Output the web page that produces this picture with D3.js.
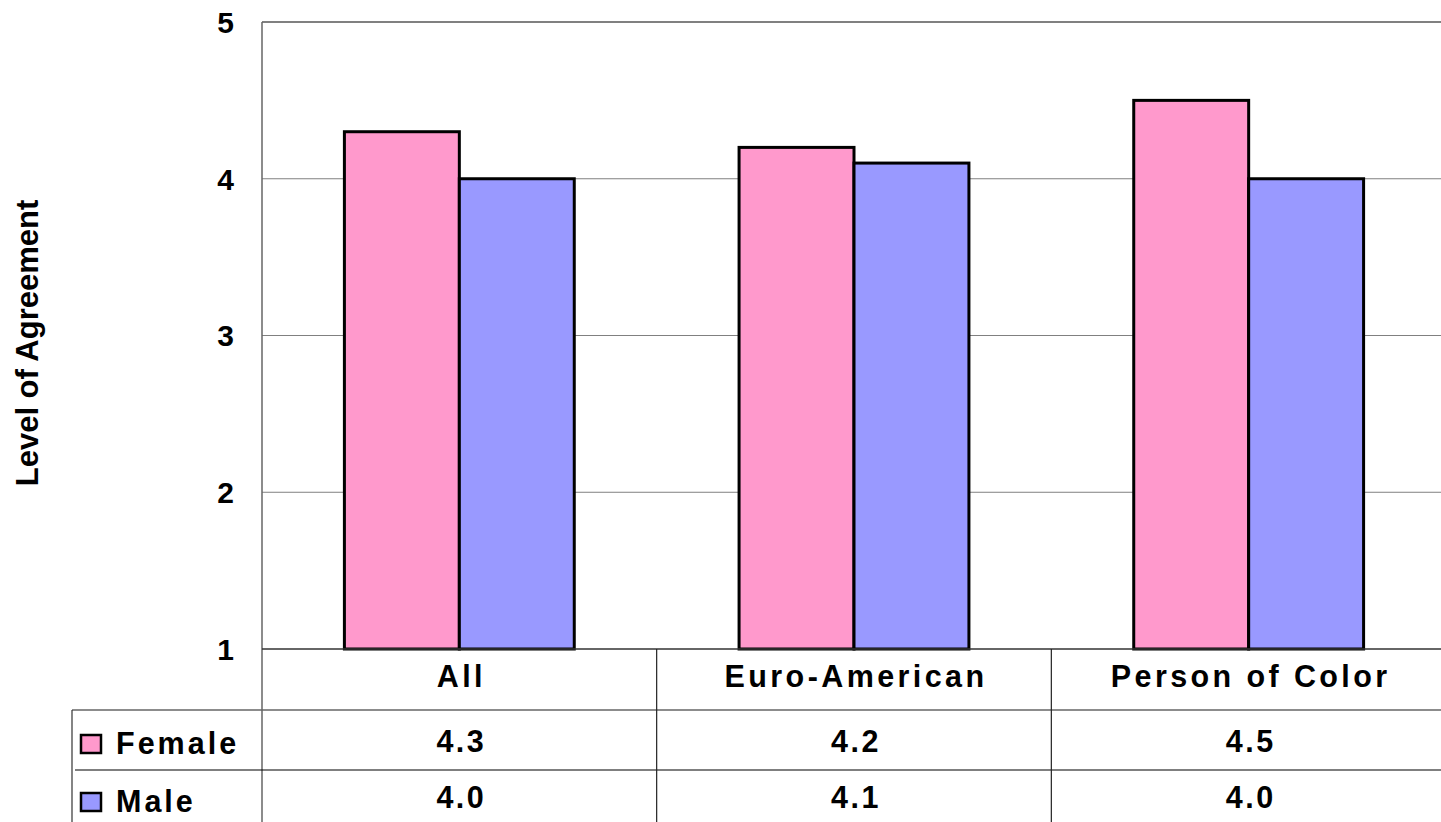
<!DOCTYPE html>
<html>
<head>
<meta charset="utf-8">
<script src="https://cdn.jsdelivr.net/npm/d3@7"></script>
<style>
  body { margin: 0; background: #fff; }
  text { font-family: Arial, "Liberation Sans", sans-serif; font-weight: bold; fill: #000; }
</style>
</head>
<body>
<svg width="1441" height="822"></svg>
<script>
var categories = ['All', 'Euro-American', 'Person of Color'];
var seriesNames = ['Female', 'Male'];
var female = [4.3, 4.2, 4.5];
var male = [4.0, 4.1, 4.0];
var yTicks = [1, 2, 3, 4, 5];
var seriesColors = ['#FF99CC', '#9999FF'];

var seriesValues = [female, male];

var plotLeft = 262, plotRight = 1446, plotTop = 22, plotBottom = 649;
var rowY = [649, 710, 770, 822];   // table row edges
var legendLeft = 72;

var svg = d3.select('svg');

var x0 = d3.scaleBand()
  .domain(categories)
  .range([plotLeft, plotRight]);

var x1 = d3.scaleBand()
  .domain(seriesNames)
  .range([0, x0.bandwidth()])
  .paddingOuter(0.717);

var y = d3.scaleLinear()
  .domain([1, 5])
  .range([plotBottom, plotTop]);

// gridlines
svg.append('g')
  .selectAll('line')
  .data(yTicks.slice(1))
  .enter().append('line')
  .attr('x1', plotLeft)
  .attr('x2', 1441)
  .attr('y1', function(d) { return y(d); })
  .attr('y2', function(d) { return y(d); })
  .attr('stroke', '#808080')
  .attr('stroke-width', function(d) { return d === 5 ? 2 : 1; });

// y tick labels
svg.append('g')
  .selectAll('text')
  .data(yTicks)
  .enter().append('text')
  .attr('x', 234)
  .attr('y', function(d) { return y(d); })
  .attr('dy', '0.36em')
  .attr('text-anchor', 'end')
  .style('font-size', '30px')
  .text(function(d) { return d; });

// y axis title
svg.append('text')
  .attr('transform', 'translate(38,343)rotate(-90)')
  .attr('text-anchor', 'middle')
  .style('font-size', '31px')
  .text('Level of Agreement');

// bars
var groups = svg.append('g')
  .selectAll('g.cat')
  .data(categories)
  .enter().append('g')
  .classed('cat', true)
  .attr('transform', function(d) { return 'translate(' + x0(d) + ',0)'; });

groups.selectAll('rect')
  .data(function(d, i) {
    return seriesNames.map(function(s, j) {
      return { series: s, value: seriesValues[j][i], color: seriesColors[j] };
    });
  }).enter().append('rect')
  .attr('x', function(d) { return x1(d.series); })
  .attr('width', x1.bandwidth())
  .attr('y', function(d) { return y(d.value); })
  .attr('height', function(d) { return plotBottom - y(d.value); })
  .attr('fill', function(d) { return d.color; })
  .attr('stroke', '#000')
  .attr('stroke-width', 3);

// axis + table lines
var lines = svg.append('g');
lines.append('line')   // y axis
  .attr('x1', plotLeft).attr('x2', plotLeft)
  .attr('y1', plotTop).attr('y2', 822)
  .attr('stroke', '#666').attr('stroke-width', 1.5);
lines.append('line')   // x axis
  .attr('x1', plotLeft).attr('x2', 1441)
  .attr('y1', plotBottom).attr('y2', plotBottom)
  .attr('stroke', '#333').attr('stroke-width', 1.5);
lines.append('line')
  .attr('x1', legendLeft).attr('x2', 1441)
  .attr('y1', rowY[1]).attr('y2', rowY[1])
  .attr('stroke', '#666').attr('stroke-width', 1.5);
lines.append('line')
  .attr('x1', legendLeft + 3).attr('x2', 1441)
  .attr('y1', rowY[2]).attr('y2', rowY[2])
  .attr('stroke', '#000').attr('stroke-width', 1.2);
lines.append('line')
  .attr('x1', legendLeft).attr('x2', legendLeft)
  .attr('y1', rowY[1]).attr('y2', 822)
  .attr('stroke', '#333').attr('stroke-width', 1.2);
lines.selectAll('line.sep')
  .data(categories.slice(1))
  .enter().append('line')
  .classed('sep', true)
  .attr('x1', function(d) { return x0(d); })
  .attr('x2', function(d) { return x0(d); })
  .attr('y1', plotBottom).attr('y2', 822)
  .attr('stroke', '#222').attr('stroke-width', 1.2);

// category header
svg.append('g')
  .selectAll('text')
  .data(categories)
  .enter().append('text')
  .attr('x', function(d) { return x0(d) + x0.bandwidth() / 2 + 2; })
  .attr('y', 687)
  .attr('text-anchor', 'middle')
  .style('font-size', '30.5px')
  .style('letter-spacing', '3.4px')
  .text(function(d) { return d; });

// table values
var fmt = d3.format('.1f');
var valueBase = [752, 808];
var labelBase = [754, 812];
seriesNames.forEach(function(s, j) {
  svg.append('g')
    .selectAll('text')
    .data(seriesValues[j])
    .enter().append('text')
    .attr('x', function(d, i) { return x0(categories[i]) + x0.bandwidth() / 2 + 2; })
    .attr('y', valueBase[j])
    .attr('text-anchor', 'middle')
    .style('font-size', '30.5px')
    .style('letter-spacing', '2.5px')
    .text(function(d) { return fmt(d); });

  // legend key + label
  svg.append('rect')
    .attr('x', 81)
    .attr('y', labelBase[j] - 19)
    .attr('width', 20)
    .attr('height', 18)
    .attr('fill', seriesColors[j])
    .attr('stroke', '#000')
    .attr('stroke-width', 2.5);
  svg.append('text')
    .attr('x', 116)
    .attr('y', labelBase[j])
    .style('font-size', '30.5px')
    .style('letter-spacing', '3px')
    .text(s);
});
</script>
</body>
</html>
